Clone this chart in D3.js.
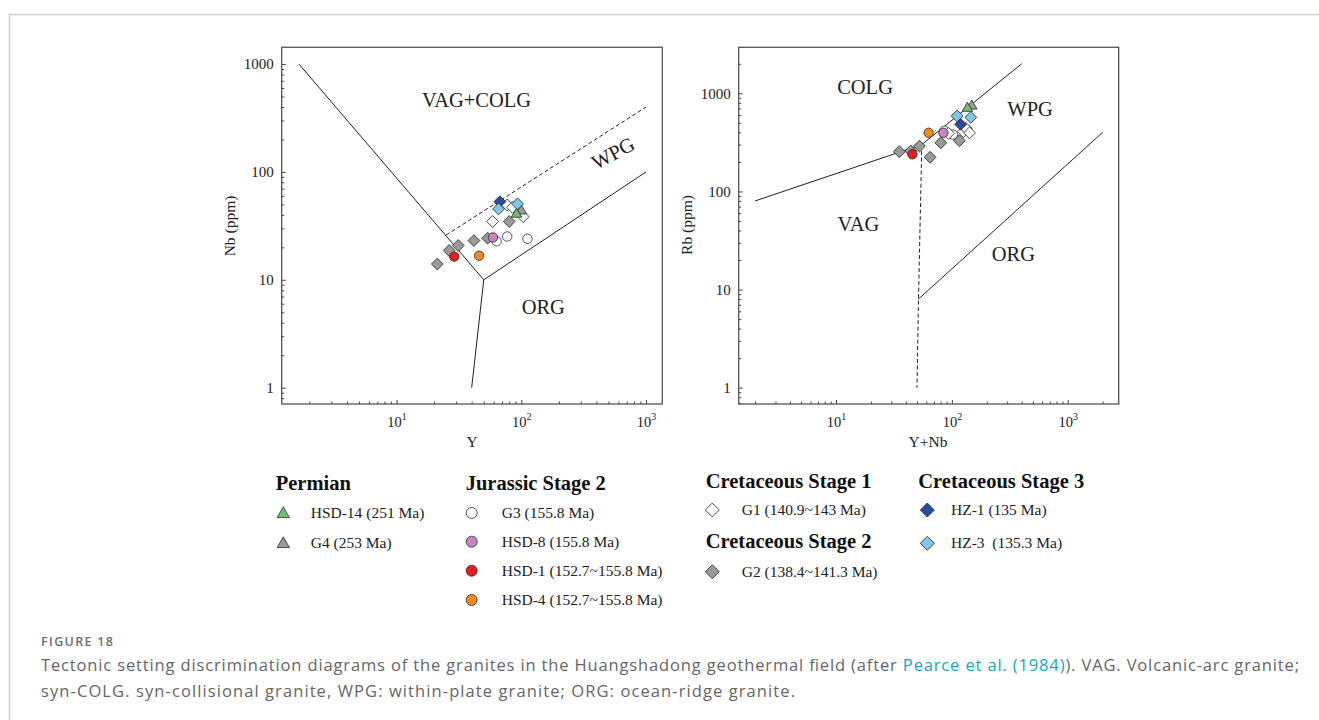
<!DOCTYPE html>
<html>
<head>
<meta charset="utf-8">
<title>Tectonic setting discrimination diagrams</title>
<script src="https://cdn.jsdelivr.net/npm/d3@7"></script>
<style>
  body { margin: 0; background: #fff; }
  svg { display: block; }
</style>
</head>
<body>
<div id="chart"></div>
<script>
// sample rows: [sample, x, y]
// left diagram: Y vs Nb
const ynbPoints = [
  ["G3", 63.4, 22.7], ["G3", 77.1, 25.2], ["G3", 112, 24],
  ["G1", 58.9, 34.7], ["G1", 77, 49.4], ["G1", 85, 47], ["G1", 103.6, 38.5],
  ["G2", 21.2, 14.0], ["G2", 26.4, 18.7], ["G2", 31.2, 20.8], ["G2", 41.7, 23.1], ["G2", 53.7, 24.3], ["G2", 80, 34.7],
  ["G4", 100, 44.5],
  ["HSD-14", 91.6, 41.5],
  ["HSD-8", 59.2, 24.7],
  ["HSD-1", 29, 16.4],
  ["HSD-4", 45.9, 16.7],
  ["HZ-1", 67.3, 53],
  ["HZ-3", 65.7, 45.4], ["HZ-3", 93.3, 50.6]
];
// right diagram: Y+Nb vs Rb
const rbPoints = [
  ["G3", 86, 415], ["G3", 102, 380], ["G3", 136, 420],
  ["G1", 93.6, 391], ["G1", 126, 406], ["G1", 132, 440], ["G1", 142, 396],
  ["G2", 35.2, 254], ["G2", 44.2, 258], ["G2", 52.5, 290], ["G2", 64.9, 223], ["G2", 80.2, 313], ["G2", 116, 329],
  ["G4", 148.6, 759],
  ["HSD-14", 136, 720],
  ["HSD-8", 84.5, 396],
  ["HSD-1", 45.6, 239],
  ["HSD-4", 63.1, 396],
  ["HZ-1", 119, 483],
  ["HZ-3", 111, 588], ["HZ-3", 145.6, 569]
];

// field boundaries (Pearce et al., 1984)
const ynbSolid = [[[1.65, 1000], [50, 10], [1000, 100]], [[50, 10], [40, 1]]];
const ynbDashed = [[[25, 26], [1000, 400]]];
const rbSolid = [[[2, 80], [55, 300], [400, 2000]], [[51.5, 8], [2000, 400]]];
const rbDashed = [[[55, 300], [51.5, 8], [50, 1]]];

// field names: [text, x, y, rotation]
const ynbFields = [["VAG+COLG", 43.8, 464, 0], ["WPG", 543, 150, -28], ["ORG", 150, 5.66, 0]];
const rbFields = [["COLG", 17.8, 1167, 0], ["WPG", 473, 703, 0], ["VAG", 15.6, 47.3, 0], ["ORG", 340, 23.4, 0]];

const yTicks = [1, 10, 100, 1000];
const xTicks = [10, 100, 1000];

// legend
const legendGroups = ["Permian", "Jurassic Stage 2", "Cretaceous Stage 1", "Cretaceous Stage 2", "Cretaceous Stage 3"];
const legendItems = [
  ["Permian", "HSD-14", "HSD-14 (251 Ma)"],
  ["Permian", "G4", "G4 (253 Ma)"],
  ["Jurassic Stage 2", "G3", "G3 (155.8 Ma)"],
  ["Jurassic Stage 2", "HSD-8", "HSD-8 (155.8 Ma)"],
  ["Jurassic Stage 2", "HSD-1", "HSD-1 (152.7~155.8 Ma)"],
  ["Jurassic Stage 2", "HSD-4", "HSD-4 (152.7~155.8 Ma)"],
  ["Cretaceous Stage 1", "G1", "G1 (140.9~143 Ma)"],
  ["Cretaceous Stage 2", "G2", "G2 (138.4~141.3 Ma)"],
  ["Cretaceous Stage 3", "HZ-1", "HZ-1 (135 Ma)"],
  ["Cretaceous Stage 3", "HZ-3", "HZ-3  (135.3 Ma)"]
];

// marker styles
const markerStyle = {
  "HSD-14": { shape: "triangle", fill: "#72bf6a" },
  "G4":     { shape: "triangle", fill: "#9a9a9a" },
  "G3":     { shape: "circle", fill: "#ffffff" },
  "HSD-8":  { shape: "circle", fill: "#c686c2" },
  "HSD-1":  { shape: "circle", fill: "#e41e20" },
  "HSD-4":  { shape: "circle", fill: "#f08a1d" },
  "G1":     { shape: "diamond", fill: "#ffffff" },
  "G2":     { shape: "diamond", fill: "#9a9a9a" },
  "HZ-1":   { shape: "diamond", fill: "#2a4b9b" },
  "HZ-3":   { shape: "diamond", fill: "#80c8ea" }
};

const serif = "'Liberation Serif', 'Times New Roman', serif";
const W = 1319, H = 720;

const svg = d3.select("#chart").append("svg")
    .attr("width", W)
    .attr("height", H);

// page border
svg.append("path")
    .attr("d", `M9.5,${H} V14.5 H${W}`)
    .attr("fill", "none")
    .attr("stroke", "#cfcfcf")
    .attr("stroke-width", 1.5);

function symbolPath(shape, big) {
  if (shape === "circle") return d3.symbol(d3.symbolCircle, big ? 95 : 70)();
  if (shape === "triangle") return d3.symbol(d3.symbolTriangle, big ? 66 : 48)();
  return d3.symbol(d3.symbolSquare, big ? 98 : 70)();
}

function drawMarker(g, name, x, y, big) {
  const st = markerStyle[name];
  g.append("path")
      .attr("d", symbolPath(st.shape, big))
      .attr("transform", `translate(${x},${y})` + (st.shape === "diamond" ? " rotate(45)" : (st.shape === "triangle" ? " translate(0,1)" : "")))
      .attr("fill", st.fill)
      .attr("stroke", "#2b2b2b")
      .attr("stroke-width", 0.8);
}

function minorTicks(domain) {
  const out = [];
  for (let e = -1; e <= 4; e++) {
    for (let m = 2; m <= 9; m++) {
      const v = m * Math.pow(10, e);
      if (v > domain[0] && v < domain[1]) out.push(v);
    }
  }
  return out;
}

function drawPanel(p) {
  const x = d3.scaleLog().domain(p.xDomain).range([p.left, p.right]);
  const y = d3.scaleLog().domain(p.yDomain).range([p.bottom, p.top]);
  const g = svg.append("g");

  // minor ticks
  g.append("g")
      .attr("transform", `translate(0,${p.bottom})`)
      .call(d3.axisBottom(x).tickValues(minorTicks(p.xDomain)).tickSize(-2.5).tickFormat(""))
      .call(a => a.select(".domain").remove());
  g.append("g")
      .attr("transform", `translate(${p.left},0)`)
      .call(d3.axisLeft(y).tickValues(minorTicks(p.yDomain)).tickSize(-2.5).tickFormat(""))
      .call(a => a.select(".domain").remove());

  // major ticks + labels
  const xa = g.append("g")
      .attr("transform", `translate(0,${p.bottom})`)
      .call(d3.axisBottom(x).tickValues(xTicks).tickSize(-4).tickFormat(d => d));
  xa.select(".domain").remove();
  xa.selectAll("text")
      .attr("y", 23).attr("dy", null)
      .attr("font-family", serif).attr("font-size", 14.5).attr("fill", "#222")
      .each(function(d) {
        const t = d3.select(this).text(null);
        t.append("tspan").text("10");
        t.append("tspan").attr("dy", -7).attr("font-size", 10).text(Math.round(Math.log10(d)));
      });

  const ya = g.append("g")
      .attr("transform", `translate(${p.left},0)`)
      .call(d3.axisLeft(y).tickValues(yTicks).tickSize(-4).tickPadding(8).tickFormat(d3.format("d")));
  ya.select(".domain").remove();
  ya.selectAll("text")
      .attr("font-family", serif).attr("font-size", 15).attr("fill", "#222");
  g.selectAll(".tick line").attr("stroke", "#444");

  // frame
  g.append("rect")
      .attr("x", p.left).attr("y", p.top)
      .attr("width", p.right - p.left).attr("height", p.bottom - p.top)
      .attr("fill", "none").attr("stroke", "#555").attr("stroke-width", 1.3);

  // boundaries
  const line = d3.line().x(d => x(d[0])).y(d => y(d[1]));
  g.selectAll(".solid").data(p.solid).enter().append("path")
      .attr("d", line).attr("fill", "none").attr("stroke", "#222").attr("stroke-width", 1);
  g.selectAll(".dashed").data(p.dashed).enter().append("path")
      .attr("d", line).attr("fill", "none").attr("stroke", "#222").attr("stroke-width", 1)
      .attr("stroke-dasharray", "4,2.5");

  // field names
  p.fields.forEach(f => {
    g.append("text")
        .attr("transform", `translate(${x(f[1])},${y(f[2])}) rotate(${f[3]})`)
        .attr("text-anchor", "middle").attr("dy", "0.35em")
        .attr("font-family", serif).attr("font-size", 20.5).attr("fill", "#222")
        .text(f[0]);
  });

  // axis titles
  g.append("text")
      .attr("x", p.xTitleX).attr("y", 447)
      .attr("text-anchor", "middle")
      .attr("font-family", serif).attr("font-size", 15.5).attr("fill", "#222")
      .text(p.xTitle);
  g.append("text")
      .attr("transform", `translate(${p.yTitleX},${p.yTitleY}) rotate(-90)`)
      .attr("text-anchor", "middle")
      .attr("font-family", serif).attr("font-size", 15.5).attr("fill", "#222")
      .text(p.yTitle);

  // samples
  const pg = g.append("g");
  p.points.forEach(d => drawMarker(pg, d[0], x(d[1]), y(d[2]), false));
}

drawPanel({
  left: 281.7, right: 662.3, top: 47.3, bottom: 404,
  xDomain: [1.2, 1350], yDomain: [0.706, 1430],
  solid: ynbSolid, dashed: ynbDashed, fields: ynbFields, points: ynbPoints,
  xTitle: "Y", yTitle: "Nb (ppm)", yTitleX: 234.5, yTitleY: 226, xTitleX: 472
});

drawPanel({
  left: 738.7, right: 1118.7, top: 47.3, bottom: 404,
  xDomain: [1.445, 2754], yDomain: [0.682, 2944],
  solid: rbSolid, dashed: rbDashed, fields: rbFields, points: rbPoints,
  xTitle: "Y+Nb", yTitle: "Rb (ppm)", yTitleX: 692, yTitleY: 225, xTitleX: 928
});

// legend
const legendCols = {
  "Permian":            { hx: 275.7, hy: 490, mx: 283.3, tx: 310.7, rows: [513, 543] },
  "Jurassic Stage 2":   { hx: 465.7, hy: 490, mx: 471.7, tx: 501.7, rows: [513, 541.7, 570.7, 600] },
  "Cretaceous Stage 1": { hx: 705.7, hy: 488, mx: 712.3, tx: 741.7, rows: [510] },
  "Cretaceous Stage 2": { hx: 705.7, hy: 548, mx: 712.3, tx: 741.7, rows: [571.7] },
  "Cretaceous Stage 3": { hx: 918.3, hy: 488, mx: 927.3, tx: 951, rows: [510, 543.3] }
};
const lg = svg.append("g");
legendGroups.forEach(name => {
  const c = legendCols[name];
  lg.append("text")
      .attr("x", c.hx).attr("y", c.hy)
      .attr("font-family", serif).attr("font-size", 20.5).attr("font-weight", "bold").attr("fill", "#111")
      .text(name);
  legendItems.filter(d => d[0] === name).forEach((d, i) => {
    drawMarker(lg, d[1], c.mx, c.rows[i], true);
    lg.append("text")
        .attr("x", c.tx).attr("y", c.rows[i]).attr("dy", "0.33em")
        .attr("font-family", serif).attr("font-size", 15.5).attr("fill", "#222")
        .attr("xml:space", "preserve")
        .text(d[2]);
  });
});

// caption
const cap = svg.append("g").attr("font-family", "'Open Sans', sans-serif").attr("fill", "#666");
cap.append("text")
    .attr("x", 41).attr("y", 646)
    .attr("font-size", 12.5).attr("font-weight", 600).attr("fill", "#6e6e6e")
    .attr("textLength", 72).attr("lengthAdjust", "spacing")
    .text("FIGURE 18");
const l1 = cap.append("text").attr("x", 41).attr("y", 671).attr("font-size", 16.5)
    .attr("textLength", 1258).attr("lengthAdjust", "spacing");
l1.append("tspan").text("Tectonic setting discrimination diagrams of the granites in the Huangshadong geothermal field (after ");
l1.append("tspan").attr("fill", "#1aa3c4").text("Pearce et al. (1984)");
l1.append("tspan").text("). VAG. Volcanic-arc granite;");
cap.append("text").attr("x", 41).attr("y", 697).attr("font-size", 16.5)
    .attr("textLength", 754).attr("lengthAdjust", "spacing")
    .text("syn-COLG. syn-collisional granite, WPG: within-plate granite; ORG: ocean-ridge granite.");
</script>
</body>
</html>
